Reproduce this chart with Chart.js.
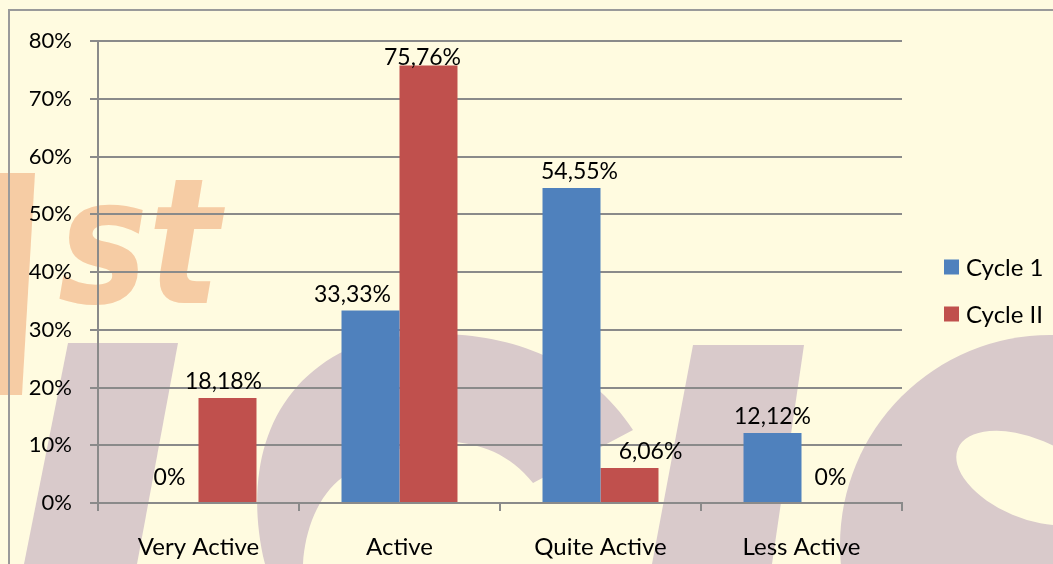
<!DOCTYPE html>
<html>
<head>
<meta charset="utf-8">
<script src="https://cdn.jsdelivr.net/npm/chart.js@4.4.1/dist/chart.umd.min.js"></script>
<style>
  html, body { margin: 0; padding: 0; background: #FFFBE0; }
  #wrap { width: 1053px; height: 564px; }
</style>
</head>
<body>
<div id="wrap"><canvas id="myChart" width="1053" height="564"></canvas></div>
<script>
// chart data (percent)
var categories = ["Very Active", "Active", "Quite Active", "Less Active"];
var seriesNames = ["Cycle 1", "Cycle II"];
var cycle1 = [0, 33.33, 54.55, 12.12];
var cycle2 = [18.18, 75.76, 6.06, 0];
var yTicks = [0, 10, 20, 30, 40, 50, 60, 70, 80];

var FONT = "Lato";
var gridColor = "#8A8A8A";
// small horizontal nudges of a few value labels, as in the original
var labelShift = [[0, -18, 8, 0], [-4, -6, 21, 0]];

function pctLabel(v) {
    if (v === 0) return "0%";
    return v.toFixed(2).replace(".", ",") + "%";
}

// faded watermark behind the chart + outer frame
var backdrop = {
    id: "backdrop",
    beforeDraw: function (chart) {
        var c = chart.ctx;
        c.save();
        c.fillStyle = "#FFFBE0";
        c.fillRect(0, 0, chart.width, chart.height);

        // orange "st"
        c.fillStyle = "#F6CCA4";
        c.beginPath();
        c.moveTo(0, 173); c.lineTo(35, 173); c.lineTo(22, 395); c.lineTo(0, 395);
        c.closePath(); c.fill();
        c.save();
        c.translate(58, 303);
        c.scale(1.12, 1.3);
        c.font = "bold italic 135px 'DejaVu Sans'";
        c.fillText("st", 0, 0);
        c.restore();

        // mauve shapes
        c.fillStyle = "#D9CACB";
        c.beginPath();
        c.moveTo(68, 343); c.lineTo(178, 343); c.lineTo(137, 564); c.lineTo(24, 564);
        c.closePath(); c.fill();

        c.beginPath();
        c.moveTo(265, 564);
        c.bezierCurveTo(245, 480, 262, 395, 340, 353);
        c.bezierCurveTo(420, 318, 565, 325, 633, 430);
        c.lineTo(533, 483);
        c.bezierCurveTo(490, 428, 410, 430, 343, 477);
        c.bezierCurveTo(318, 495, 305, 530, 303, 564);
        c.closePath(); c.fill();

        c.beginPath();
        c.moveTo(693, 345); c.lineTo(804, 345); c.lineTo(772, 564); c.lineTo(652, 564);
        c.closePath(); c.fill();

        c.beginPath();
        c.ellipse(1050, 545, 210, 210, 0, 0, Math.PI * 2);
        c.fill();
        c.fillStyle = "#FFFBE0";
        c.beginPath();
        c.ellipse(1028, 478, 76, 40, 0.4, 0, Math.PI * 2);
        c.fill();

        // frame
        c.strokeStyle = "#9A9A9A";
        c.lineWidth = 2;
        c.beginPath();
        c.moveTo(9, 564); c.lineTo(9, 10); c.lineTo(1053, 10);
        c.stroke();
        c.restore();
    }
};

// value labels above the bars
var valueLabels = {
    id: "valueLabels",
    afterDatasetsDraw: function (chart) {
        var c = chart.ctx;
        c.save();
        c.font = "23px " + FONT;
        c.fillStyle = "#000";
        c.textAlign = "center";
        c.textBaseline = "middle";
        chart.data.datasets.forEach(function (ds, di) {
            chart.getDatasetMeta(di).data.forEach(function (bar, i) {
                var v = ds.data[i];
                var y = bar.y - (v === 0 ? 25 : 16);
                if (y < chart.chartArea.top + 17) y = chart.chartArea.top + 17;
                c.fillText(pctLabel(v), bar.x + labelShift[di][i], y);
            });
        });
        c.restore();
    }
};

// legend on the right
var sideLegend = {
    id: "sideLegend",
    afterDraw: function (chart) {
        var c = chart.ctx;
        var a = chart.chartArea;
        var x = a.right + 42;
        var y0 = a.top + (a.bottom - a.top) / 2 - 5;
        c.save();
        c.font = "24px " + FONT;
        c.textBaseline = "middle";
        chart.data.datasets.forEach(function (ds, i) {
            var y = y0 + i * 47;
            c.fillStyle = ds.backgroundColor;
            c.fillRect(x, y - 7.5, 15, 15);
            c.fillStyle = "#000";
            c.fillText(ds.label, x + 22, y + 1);
        });
        c.restore();
    }
};

var ctx = document.getElementById("myChart").getContext("2d");

var myChart = new Chart(ctx, {
    type: "bar",
    data: {
        labels: categories,
        datasets: [{
            label: seriesNames[0],
            data: cycle1,
            backgroundColor: "#4F81BD",
            categoryPercentage: 0.577,
            barPercentage: 1
        }, {
            label: seriesNames[1],
            data: cycle2,
            backgroundColor: "#C0504D",
            categoryPercentage: 0.577,
            barPercentage: 1
        }]
    },
    options: {
        responsive: false,
        animation: false,
        layout: { padding: { top: 41, right: 151, bottom: 0, left: 0 } },
        plugins: {
            legend: { display: false },
            tooltip: { enabled: false }
        },
        scales: {
            x: {
                offset: true,
                grid: {
                    offset: true,
                    drawOnChartArea: false,
                    drawTicks: true,
                    tickLength: 8,
                    color: gridColor,
                    lineWidth: 2
                },
                border: { display: true, color: gridColor, width: 2 },
                ticks: { color: "#000", font: { family: FONT, size: 24 }, padding: 22 },
                afterFit: function (s) { s.height = 61; }
            },
            y: {
                min: yTicks[0],
                max: yTicks[yTicks.length - 1],
                afterBuildTicks: function (s) {
                    s.ticks = yTicks.map(function (v) { return { value: v }; });
                },
                grid: { color: gridColor, lineWidth: 2, tickLength: 8 },
                border: { display: true, color: gridColor, width: 2 },
                ticks: {
                    color: "#000",
                    font: { family: FONT, size: 22 },
                    padding: 18,
                    callback: function (v) { return v + "%"; }
                },
                afterFit: function (s) { s.width = 98; }
            }
        }
    },
    plugins: [backdrop, valueLabels, sideLegend]
});
</script>
</body>
</html>
